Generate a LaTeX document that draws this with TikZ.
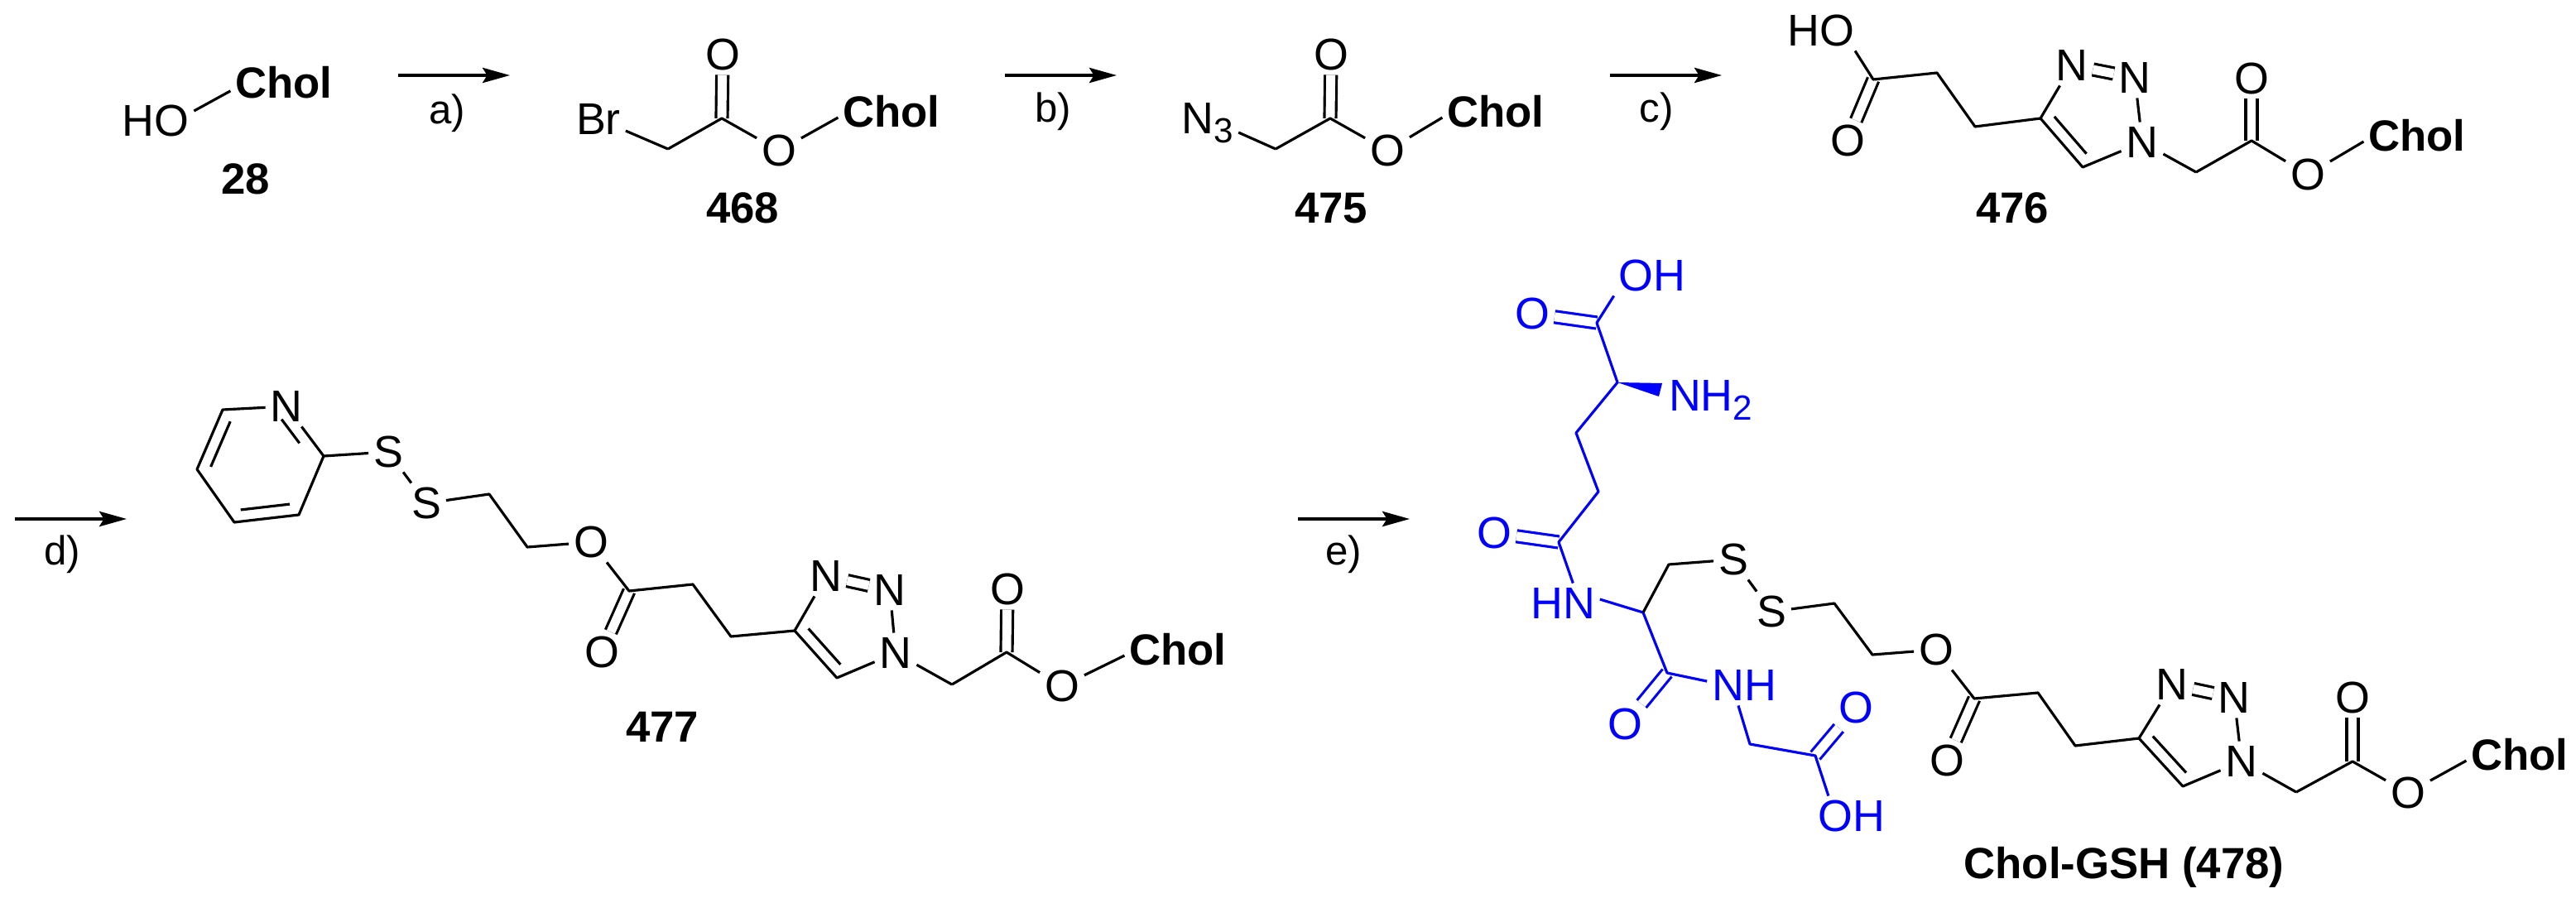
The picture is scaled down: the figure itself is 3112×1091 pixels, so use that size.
\documentclass[tikz,border=0pt]{standalone}
\usepackage{fontspec}
\setmainfont{Liberation Sans}
\usetikzlibrary{arrows.meta,calc}
\tikzset{
	atom/.style = {font = \fontsize{15.3}{15.3}\selectfont, inner sep = 1.5pt, text height = 10.5pt, text depth = 0pt},
	chol/.style = {atom, font = \fontsize{15}{15}\selectfont\bfseries},
	gatom/.style = {atom, text = blue},
	bond/.style = {line width = .9pt, line join = round},
	dbl/.style = {bond, double, double distance = 3.1pt},
	rxn/.style = {line width = .95pt, -{Stealth[length = 9.4pt, width = 5.2pt, inset = 1.6pt]}},
	cond/.style = {font = \fontsize{14}{14}\selectfont, inner sep = 0pt}
}
\newcommand{\atomsub}[1]{\raisebox{-.19em}{\fontsize{12}{12}\selectfont #1}}
\newcommand{\ringbond}[3][.12]{\draw[bond] ($(#2)!#1!(#3)!4pt!90:(#3)$) -- ($(#3)!.12!(#2)!4pt!-90:(#2)$);}
\begin{document}
\begin{tikzpicture}[x = .01cm, y = -.01cm]
	\useasboundingbox (0,0) rectangle (3112,1091);

	\node[atom] (hoa) at (188,146) {HO};
	\node[chol] (chola) at (343,100) {Chol};
	\node[chol] (numa) at (297,216) {28};
	\draw[bond] ([yshift = 3.4pt]hoa.east) -- ([yshift = -2.8pt]chola.west);

	\coordinate (arra1) at (481,91);
	\coordinate (arra2) at (616,91);
	\draw[rxn] (arra1) -- (arra2);
	\node[cond] (conda) at (540,137) {a)};

	\node[atom] (brb) at (723,144) {Br};
	\coordinate (chb) at (807,180);
	\coordinate (cob) at (872,143);
	\node[atom] (otb) at (873,66) {O};
	\node[atom] (oeb) at (941,182) {O};
	\node[chol] (cholb) at (1077,135) {Chol};
	\node[chol] (numb) at (897,251) {468};
	\draw[bond] (brb) -- (chb);

	\coordinate (arrb1) at (1214,91);
	\coordinate (arrb2) at (1349,91);
	\draw[rxn] (arrb1) -- (arrb2);
	\node[cond] (condb) at (1272,135) {b)};

	\node[atom] (azc) at (1459,143.5) {N\atomsub{3}};
	\coordinate (chc) at (1541,180);
	\coordinate (coc) at (1607,143);
	\node[atom] (otc) at (1608,66) {O};
	\node[atom] (oec) at (1676,182) {O};
	\node[chol] (cholc) at (1807,135) {Chol};
	\node[chol] (numc) at (1608,251) {475};
	\draw[bond] (azc) -- (chc);

	\coordinate (arrc1) at (1945,91);
	\coordinate (arrc2) at (2080,91);
	\draw[rxn] (arrc1) -- (arrc2);
	\node[cond] (condc) at (2001,135) {c)};

	\node[atom] (hod) at (2200,37) {HO};
	\coordinate (acd) at (2263,96);
	\node[atom] (oad) at (2232,170) {O};
	\coordinate (cad) at (2340,88);
	\coordinate (cbd) at (2386,153);
	\coordinate (cfd) at (2465,143);
	\coordinate (cgd) at (2516,202);
	\node[atom] (nad) at (2588,172) {N};
	\node[atom] (nbd) at (2579,94) {N};
	\node[atom] (ncd) at (2503,79) {N};
	\coordinate (chd) at (2653,208);
	\coordinate (cod) at (2720,170);
	\node[atom] (otd) at (2720,95) {O};
	\node[atom] (oed) at (2788,211) {O};
	\node[chol] (chold) at (2920,164) {Chol};
	\node[chol] (numd) at (2431,251) {476};
	\draw[dbl] (acd) -- (oad);
	\draw[bond] ([xshift = -1.5pt]hod.south east) -- (acd) -- (cad) -- (cbd) -- (cfd);

	\coordinate (arrd1) at (18,627);
	\coordinate (arrd2) at (153,627);
	\draw[rxn] (arrd1) -- (arrd2);
	\node[cond] (condd) at (75,670) {d)};

	\node[atom] (pyn) at (346,491) {N};
	\coordinate (pya) at (269,495);
	\coordinate (pyb) at (238,567);
	\coordinate (pyc) at (283,631);
	\coordinate (pyd) at (361,622);
	\coordinate (pye) at (391,551);
	\node[atom] (sae) at (469,546) {S};
	\node[atom] (sbe) at (515,608) {S};
	\coordinate (cce) at (591,597);
	\coordinate (cde) at (637,661);
	\node[atom] (oee1) at (714,655) {O};
	\coordinate (ace) at (760,714);
	\node[atom] (oae) at (727,788) {O};
	\coordinate (cae) at (837,706);
	\coordinate (cbe) at (883,769);
	\coordinate (cfe) at (960,762);
	\coordinate (cge) at (1011,819);
	\node[atom] (nae) at (1082,789) {N};
	\node[atom] (nbe) at (1075,713) {N};
	\node[atom] (nce) at (998,696) {N};
	\coordinate (che) at (1150,827);
	\coordinate (coe) at (1216,788);
	\node[atom] (ote) at (1217,712) {O};
	\node[atom] (oee) at (1283,829) {O};
	\node[chol] (chole) at (1423,785) {Chol};
	\node[chol] (nume) at (800,878) {477};
	\draw[bond] (pyn) -- (pya) -- (pyb) -- (pyc) -- (pyd) -- (pye) -- (pyn);
	\ringbond{pya}{pyb}
	\ringbond{pyc}{pyd}
	\ringbond[.4]{pye}{pyn}
	\draw[dbl] (ace) -- (oae);
	\draw[bond] (pye) -- (sae) -- (sbe) -- (cce) -- (cde) -- (oee1) -- (ace) -- (cae) -- (cbe) -- (cfe);

	\coordinate (arre1) at (1568,627);
	\coordinate (arre2) at (1703,627);
	\draw[rxn] (arre1) -- (arre2);
	\node[cond] (conde) at (1623,670) {e)};

	\node[gatom] (ohf) at (1996,333) {OH};
	\node[gatom] (oaf) at (1851,379) {O};
	\coordinate (acf) at (1929,390);
	\coordinate (gaf) at (1954,462);
	\coordinate (wda) at (2008,463);
	\coordinate (wdb) at (2004,479);
	\node[gatom, anchor = west] (nhf) at (2010,478.5) {NH\atomsub{2}};
	\coordinate (gbf) at (1904,523);
	\coordinate (gcf) at (1931,594);
	\coordinate (gdf) at (1883,655);
	\node[gatom] (obf) at (1805,644) {O};
	\node[gatom] (hnf) at (1888,729) {HN};
	\coordinate (gef) at (1985,740);
	\coordinate (gff) at (2014,813);
	\node[gatom] (ocf) at (1963,875) {O};
	\node[gatom] (ngf) at (2107,828) {NH};
	\coordinate (ggf) at (2114,899);
	\coordinate (ghf) at (2193,913);
	\node[gatom] (odf) at (2242,855) {O};
	\node[gatom] (oif) at (2237,986) {OH};
	\coordinate (ssf) at (2016,682);
	\node[atom] (saf) at (2094,676) {S};
	\node[atom] (sbf) at (2140,739) {S};
	\coordinate (ccf) at (2216,729);
	\coordinate (cdf) at (2262,791);
	\node[atom] (oef1) at (2339,785) {O};
	\coordinate (axf) at (2385,844);
	\node[atom] (oxf) at (2352,919) {O};
	\coordinate (caf) at (2462,837);
	\coordinate (cbf) at (2507,901);
	\coordinate (cff) at (2584,892);
	\coordinate (cgf) at (2637,950);
	\node[atom] (naf) at (2708,920) {N};
	\node[atom] (nbf) at (2699,843) {N};
	\node[atom] (ncf) at (2624,827) {N};
	\coordinate (chf) at (2774,957);
	\coordinate (cof) at (2842,920);
	\node[atom] (otf) at (2842,843) {O};
	\node[atom] (oef) at (2909,958) {O};
	\node[chol] (cholf) at (3044,912) {Chol};
	\node[chol] (numf) at (2566,1043.5) {Chol-GSH (478)};
	\draw[dbl, blue] (acf) -- (oaf);
	\draw[dbl, blue] (gdf) -- (obf);
	\draw[dbl, blue] (gff) -- (ocf);
	\draw[dbl, blue] (ghf) -- (odf);
	\draw[dbl] (axf) -- (oxf);
	\fill[blue] (gaf) -- (wda) -- (wdb) -- cycle;
	\draw[bond, blue] (ohf.south west) -- (acf) -- (gaf) -- (gbf) -- (gcf) -- (gdf) -- ([xshift = 3.5pt]hnf.north);
	\draw[bond, blue] ([yshift = 1.4pt]hnf.east) -- (gef) -- (gff) -- ([yshift = 1.4pt]ngf.west);
	\draw[bond, blue] ([xshift = -2pt]ngf.south) -- (ggf) -- (ghf) -- ([xshift = -8pt]oif.north);
	\draw[bond] (gef) -- (ssf) -- (saf) -- (sbf) -- (ccf) -- (cdf) -- (oef1) -- (axf) -- (caf) -- (cbf) -- (cff);

	\foreach \m in {d,e,f} {
		\draw[dbl] (nc\m) -- (nb\m);
		\draw[bond] (cf\m) -- (cg\m) -- (na\m) -- (nb\m);
		\draw[bond] (cf\m) -- (nc\m);
		\ringbond{cf\m}{cg\m}
		\draw[bond] (na\m) -- (ch\m);
	}
	\foreach \m in {b,c,d,e,f} {
		\draw[dbl] (co\m) -- (ot\m);
		\draw[bond] (ch\m) -- (co\m) -- (oe\m) -- ([yshift = -2pt]chol\m.west);
	}
\end{tikzpicture}
\end{document}
